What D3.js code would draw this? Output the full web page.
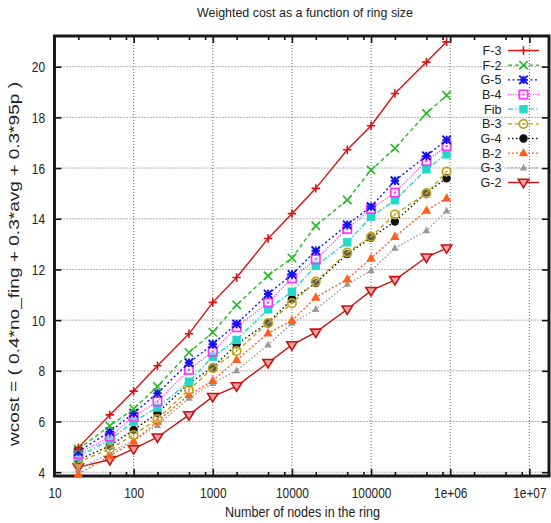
<!DOCTYPE html>
<html><head><meta charset="utf-8">
<script src="https://cdn.jsdelivr.net/npm/d3@7"></script>
<style>
html,body{margin:0;padding:0;background:#fff;}
text{font-family:"Liberation Sans",Arial,sans-serif;fill:#222;}
</style></head>
<body>
<svg id="chart" width="551" height="523"></svg>
<script>
const xValues = [20, 50, 100, 200, 500, 1000, 2000, 5000, 10000, 20000, 50000, 100000, 200000, 500000, 900000];
const seriesNames = ["F-3","F-2","G-5","B-4","Fib","B-3","G-4","B-2","G-3","G-2"];
const F3  = [4.97, 6.26, 7.20, 8.20, 9.46, 10.70, 11.68, 13.22, 14.20, 15.20, 16.72, 17.67, 18.94, 20.18, 20.98];
const F2  = [4.91, 5.83, 6.50, 7.38, 8.72, 9.52, 10.60, 11.75, 12.45, 13.72, 14.74, 15.92, 16.78, 18.16, 18.87];
const G5  = [4.81, 5.60, 6.33, 7.12, 8.32, 9.05, 9.85, 11.03, 11.80, 12.74, 13.76, 14.48, 15.50, 16.48, 17.11];
const B4  = [4.72, 5.40, 6.19, 6.79, 8.04, 8.76, 9.72, 10.69, 11.65, 12.40, 13.60, 14.39, 15.03, 16.28, 16.87];
const Fib = [4.62, 5.27, 6.00, 6.55, 7.57, 8.56, 9.22, 10.43, 11.12, 12.14, 13.07, 14.08, 14.73, 15.95, 16.54];
const B3  = [4.40, 4.92, 5.47, 6.10, 7.25, 8.10, 8.78, 9.88, 10.67, 11.52, 12.67, 13.29, 14.17, 15.00, 15.86];
const G4  = [4.49, 5.04, 5.67, 6.33, 7.51, 8.13, 9.05, 9.90, 10.82, 11.46, 12.61, 13.25, 13.89, 15.03, 15.60];
const B2  = [3.93, 4.64, 5.21, 6.00, 7.05, 7.61, 8.43, 9.48, 9.98, 10.89, 11.61, 12.44, 13.29, 14.32, 14.81];
const G3  = [4.10, 4.76, 5.27, 5.85, 6.92, 7.51, 8.01, 9.02, 9.88, 10.43, 11.42, 11.95, 12.84, 13.53, 14.31];
const G2  = [4.20, 4.49, 4.92, 5.38, 6.26, 6.98, 7.40, 8.32, 9.02, 9.52, 10.43, 11.16, 11.59, 12.48, 12.84];
const xTickValues = [10, 100, 1000, 10000, 100000, 1e6, 1e7];
const xTickLabels = ["10","100","1000","10000","100000","1e+06","1e+07"];
const xMinorMult = [2, 5, 8];
const yTickValues = [4, 6, 8, 10, 12, 14, 16, 18, 20];
const titleText = "Weighted cost as a function of ring size";
const xLabelText = "Number of nodes in the ring";
const yLabelText = "wcost = ( 0.4*no_fing + 0.3*avg + 0.3*95p )";

const styles = {
  "F-3": {color:"#dd1111", dash:null, marker:"plus"},
  "F-2": {color:"#22bb22", dash:"4,3", marker:"cross"},
  "G-5": {color:"#1111ee", dash:"2,2.5", marker:"star"},
  "B-4": {color:"#ff33ff", dash:"1,1.5", marker:"box"},
  "Fib": {color:"#22d8c8", dash:"5,2,1.5,2", marker:"fbox"},
  "B-3": {color:"#c0a010", dash:"4,3", marker:"circle"},
  "G-4": {color:"#111111", dash:"1.5,2.5", marker:"fcircle"},
  "B-2": {color:"#ff6020", dash:"2,2", marker:"ftri"},
  "G-3": {color:"#999999", dash:"1.5,2", marker:"stri"},
  "G-2": {color:"#cc1111", dash:null, marker:"dtri"}
};
const allValues = [F3, F2, G5, B4, Fib, B3, G4, B2, G3, G2];

const L = 54.5, R = 549, T = 36, B = 476;
const NARROW = 0.82;
const x = d3.scaleLog().domain([10, 1.77e7]).range([L, R]);
const y = d3.scaleLinear().domain([3.85, 21.21]).range([B, T]);

const svg = d3.select("#chart");

// grid
const grid = svg.append("g");
xTickValues.slice(1).forEach(v => {
  grid.append("line").attr("x1", x(v)).attr("x2", x(v)).attr("y1", T).attr("y2", B)
    .attr("stroke", "#666").attr("stroke-width", 1).attr("stroke-dasharray", "1,2");
});
yTickValues.forEach(v => {
  grid.append("line").attr("x1", L).attr("x2", R).attr("y1", y(v)).attr("y2", y(v))
    .attr("stroke", "#666").attr("stroke-width", 1).attr("stroke-dasharray", "1,2");
});

// axes via d3
const minorVals = [];
xTickValues.forEach(v => xMinorMult.forEach(m => { const mv = v * m; if (mv < 1.77e7) minorVals.push(mv); }));

const gx = svg.append("g").attr("transform", `translate(0,${B})`)
  .call(d3.axisBottom(x).tickValues(xTickValues).tickFormat((d,i) => xTickLabels[i]).tickSizeInner(-7).tickSizeOuter(0).tickPadding(12));
const gxm = svg.append("g").attr("transform", `translate(0,${B})`)
  .call(d3.axisBottom(x).tickValues(minorVals).tickFormat("").tickSizeInner(-4).tickSizeOuter(0));
const gxt = svg.append("g").attr("transform", `translate(0,${T})`)
  .call(d3.axisTop(x).tickValues(xTickValues).tickFormat("").tickSizeInner(-7).tickSizeOuter(0));
const gxtm = svg.append("g").attr("transform", `translate(0,${T})`)
  .call(d3.axisTop(x).tickValues(minorVals).tickFormat("").tickSizeInner(-4).tickSizeOuter(0));
const gy = svg.append("g").attr("transform", `translate(${L},0)`)
  .call(d3.axisLeft(y).tickValues(yTickValues).tickFormat(d3.format("d")).tickSizeInner(-7).tickSizeOuter(0).tickPadding(11.5));
const gyr = svg.append("g").attr("transform", `translate(${R},0)`)
  .call(d3.axisRight(y).tickValues(yTickValues).tickFormat("").tickSizeInner(-7).tickSizeOuter(0));
[gx, gxm, gxt, gxtm, gy, gyr].forEach(g => {
  g.select(".domain").remove();
  g.selectAll(".tick line").attr("stroke", "#111").attr("stroke-width", 1.6);
});
gx.selectAll(".tick text").attr("font-size", 14.5).attr("fill", "#222").attr("transform", `scale(${NARROW},1)`);
gy.selectAll(".tick text").attr("font-size", 14.5).attr("fill", "#222").attr("dy", "0.35em").attr("transform", `scale(${NARROW},1)`);

// frame
svg.append("rect").attr("x", L).attr("y", T).attr("width", R - L).attr("height", B - T)
  .attr("fill", "none").attr("stroke", "#1a1a1a").attr("stroke-width", 3);

// marker drawing
function drawMarker(g, type, cx, cy, color, s) {
  s = s || 1;
  const r = 4.2 * s;
  if (type === "plus") {
    g.append("path").attr("d", `M${cx-r},${cy}H${cx+r}M${cx},${cy-r}V${cy+r}`).attr("stroke", color).attr("stroke-width", 1.6).attr("fill","none");
  } else if (type === "cross") {
    g.append("path").attr("d", `M${cx-r},${cy-r}L${cx+r},${cy+r}M${cx-r},${cy+r}L${cx+r},${cy-r}`).attr("stroke", color).attr("stroke-width", 1.6).attr("fill","none");
  } else if (type === "star") {
    g.append("path").attr("d", `M${cx-r},${cy}H${cx+r}M${cx},${cy-r}V${cy+r}M${cx-r},${cy-r}L${cx+r},${cy+r}M${cx-r},${cy+r}L${cx+r},${cy-r}`).attr("stroke", color).attr("stroke-width", 1.9).attr("fill","none");
  } else if (type === "box") {
    g.append("rect").attr("x", cx-r).attr("y", cy-r).attr("width", 2*r).attr("height", 2*r).attr("fill","#fff").attr("fill-opacity",0.3).attr("stroke", color).attr("stroke-width", 1.7);
    g.append("rect").attr("x", cx-1).attr("y", cy-1).attr("width", 2).attr("height", 2).attr("fill", color);
  } else if (type === "fbox") {
    g.append("rect").attr("x", cx-r).attr("y", cy-r).attr("width", 2*r).attr("height", 2*r).attr("fill", color);
  } else if (type === "circle") {
    g.append("circle").attr("cx", cx).attr("cy", cy).attr("r", r).attr("fill","#fff").attr("fill-opacity",0.3).attr("stroke", color).attr("stroke-width", 1.7);
    g.append("circle").attr("cx", cx).attr("cy", cy).attr("r", 1).attr("fill", color);
  } else if (type === "fcircle") {
    g.append("circle").attr("cx", cx).attr("cy", cy).attr("r", r).attr("fill", color);
  } else if (type === "ftri") {
    g.append("path").attr("d", `M${cx},${cy-r-1}L${cx+r+0.5},${cy+r-1}L${cx-r-0.5},${cy+r-1}Z`).attr("fill", color);
  } else if (type === "stri") {
    const q = r * 0.75;
    g.append("path").attr("d", `M${cx},${cy-q-1}L${cx+q+0.5},${cy+q-0.5}L${cx-q-0.5},${cy+q-0.5}Z`).attr("fill", color);
  } else if (type === "dtri") {
    g.append("path").attr("d", `M${cx},${cy+r+1}L${cx+r+1},${cy-r+1}L${cx-r-1},${cy-r+1}Z`).attr("fill", "#f0a0a0").attr("stroke", color).attr("stroke-width", 1.6);
  }
}

// series
const line = d3.line().x(d => x(d[0])).y(d => y(d[1]));
const plot = svg.append("g");
for (let i = allValues.length - 1; i >= 0; i--) {
  const name = seriesNames[i];
  const st = styles[name];
  const pts = xValues.map((xv, j) => [xv, allValues[i][j]]);
  plot.append("path").attr("d", line(pts)).attr("fill", "none").attr("stroke", st.color)
    .attr("stroke-width", 1.4).attr("stroke-dasharray", st.dash);
  const mg = plot.append("g");
  pts.forEach(p => drawMarker(mg, st.marker, x(p[0]), y(p[1]), st.color));
}

// legend
const lg = svg.append("g");
const legendRowY = d3.scaleLinear().domain([0, seriesNames.length - 1]).range([50.5, 182.5]);
seriesNames.forEach((name, i) => {
  const st = styles[name];
  const yy = legendRowY(i);
  lg.append("text").attr("x", 501.5).attr("y", yy).attr("dy", "0.36em").attr("text-anchor", "end")
    .attr("font-size", 12.6).text(name);
  lg.append("line").attr("x1", 508).attr("x2", 539).attr("y1", yy).attr("y2", yy)
    .attr("stroke", st.color).attr("stroke-width", 1.4).attr("stroke-dasharray", st.dash);
  drawMarker(lg, st.marker, 523.5, yy, st.color);
});

// titles
svg.append("text").attr("x", 305).attr("y", 17).attr("text-anchor", "middle").attr("font-size", 13.5)
  .attr("textLength", 216).attr("lengthAdjust", "spacingAndGlyphs").text(titleText);
svg.append("text").attr("x", 302.5).attr("y", 517).attr("text-anchor", "middle").attr("font-size", 14.5)
  .attr("textLength", 155).attr("lengthAdjust", "spacingAndGlyphs").text(xLabelText);
svg.append("text").attr("transform", "translate(19,264) rotate(-90)").attr("text-anchor", "middle").attr("font-size", 14.5)
  .attr("textLength", 364).attr("lengthAdjust", "spacingAndGlyphs").text(yLabelText);
</script>
</body></html>
